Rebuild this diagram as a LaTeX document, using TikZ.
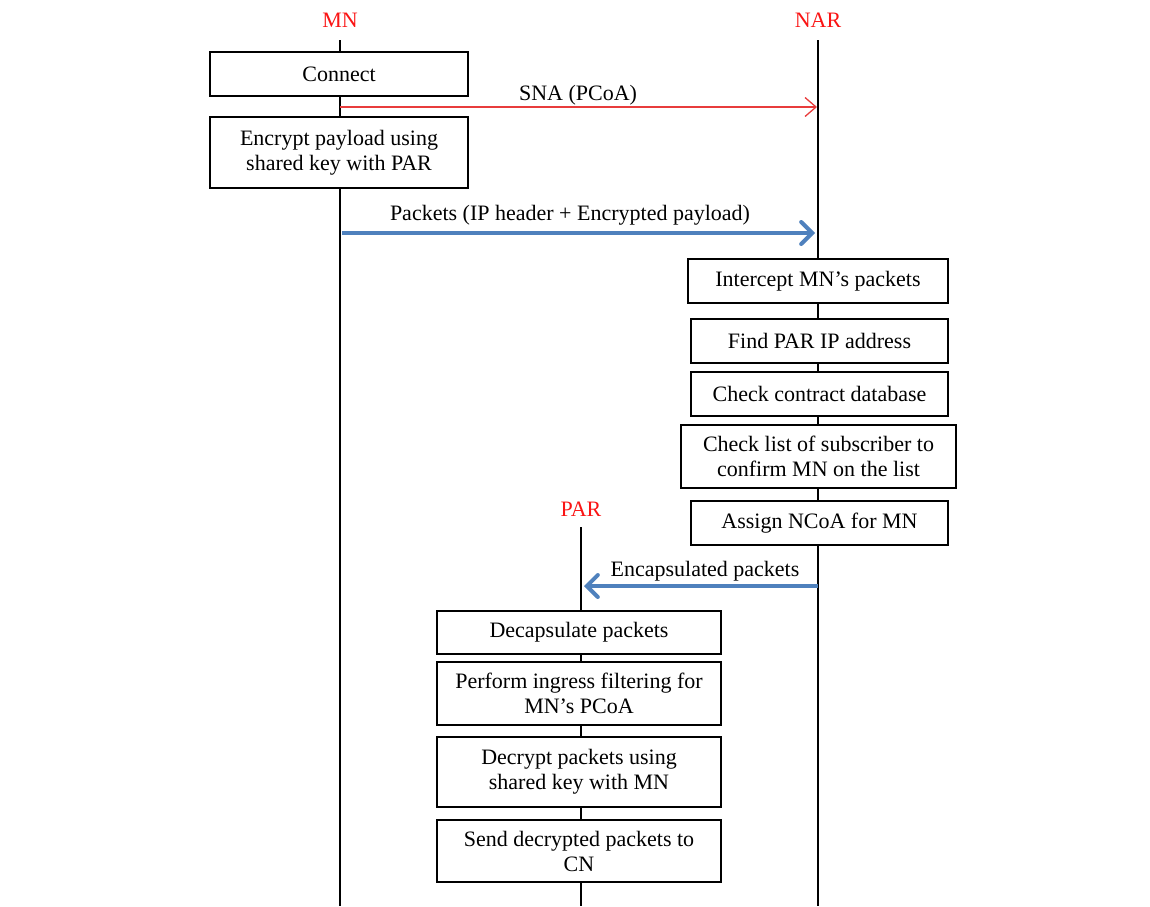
\documentclass[tikz,border=0pt]{standalone}
\usepackage{fontspec}
\setmainfont{Liberation Serif}
\usetikzlibrary{arrows.meta}
\definecolor{lblred}{RGB}{250,20,20}
\definecolor{arrred}{RGB}{232,60,60}
\definecolor{arrblue}{RGB}{79,129,189}
\begin{document}
\begin{tikzpicture}[x=1pt,y=-1pt,
  txt/.style={font=\fontsize{22}{25}\selectfont},
  box/.style={draw,line width=1.5pt,fill=white,align=center,inner sep=0pt,txt},
  actor/.style={text=lblred,txt},
  life/.style={line width=1.5pt},
  redmsg/.style={draw=arrred,line width=1.3pt,-{Straight Barb[length=11pt,width=19pt]}},
  bluemsg/.style={draw=arrblue,line width=4pt,-{Straight Barb[length=11pt,width=22pt,line cap=round]}},
  msglbl/.style={txt,inner sep=0pt}]
\useasboundingbox (0,0) rectangle (1150,906);
% actors
\node[actor] (MN) at (340,20) {MN};
\node[actor] (NAR) at (818,20) {NAR};
\node[actor] (PAR) at (581,509) {PAR};
\coordinate (mnTop) at (340,40);
\coordinate (mnBot) at (340,906);
\coordinate (narTop) at (818,40);
\coordinate (narBot) at (818,906);
\coordinate (parTop) at (581,527);
\coordinate (parBot) at (581,906);
\draw[life] (mnTop) -- (mnBot);
\draw[life] (narTop) -- (narBot);
\draw[life] (parTop) -- (parBot);
% MN boxes
\node[box,minimum width=258pt,minimum height=44pt] (connect) at (339,74) {Connect};
\node[box,minimum width=258pt,minimum height=71pt] (encrypt) at (339,152.5) {Encrypt payload using\\shared key with PAR};
% NAR boxes
\node[box,minimum width=260pt,minimum height=44pt] (intercept) at (818,281) {Intercept MN’s packets};
\node[box,minimum width=257pt,minimum height=44pt] (findpar) at (819.5,341) {Find PAR IP address};
\node[box,minimum width=257pt,minimum height=44pt] (contract) at (819.5,394) {Check contract database};
\node[box,minimum width=275pt,minimum height=63pt] (checklist) at (818.5,456.5) {Check list of subscriber to\\confirm MN on the list};
\node[box,minimum width=257pt,minimum height=44pt] (assign) at (819.5,523) {Assign NCoA for MN};
% PAR boxes
\node[box,minimum width=284pt,minimum height=43pt] (decap) at (579,632.5) {Decapsulate packets};
\node[box,minimum width=284pt,minimum height=63pt] (ingress) at (579,693.5) {Perform ingress filtering for\\MN’s PCoA};
\node[box,minimum width=284pt,minimum height=70pt] (decrypt) at (579,772) {Decrypt packets using\\shared key with MN};
\node[box,minimum width=284pt,minimum height=62pt] (send) at (579,851) {Send decrypted packets to\\CN};
% messages
\coordinate (snaA) at (340,107);
\coordinate (snaB) at (817,107);
\draw[redmsg] (snaA) -- (snaB);
\node[msglbl] (snaL) at (578,95) {SNA (PCoA)};
\coordinate (pktA) at (342,233);
\coordinate (pktB) at (815,233);
\draw[bluemsg] (pktA) -- (pktB);
\node[msglbl] (pktL) at (570,215) {Packets (IP header + Encrypted payload)};
\coordinate (encA) at (818,586);
\coordinate (encB) at (584,586);
\draw[bluemsg] (encA) -- (encB);
\node[msglbl] (encL) at (705,571) {Encapsulated packets};
\end{tikzpicture}
\end{document}
